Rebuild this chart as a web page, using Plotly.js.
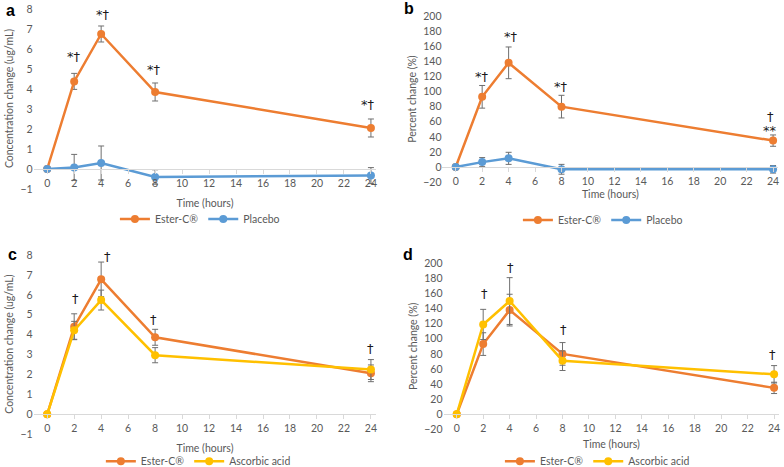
<!DOCTYPE html>
<html>
<head>
<meta charset="utf-8">
<script src="https://cdn.plot.ly/plotly-3.0.1.min.js"></script>
<style>html,body{margin:0;padding:0;background:#fff}#chart{width:784px;height:467px}</style>
</head>
<body>
<div id="chart"></div>
<script>
// time points (hours)
let time = [0, 2, 4, 8, 24];
let time_ticks = [0, 2, 4, 6, 8, 10, 12, 14, 16, 18, 20, 22, 24];
let conc_ticks = [-1, 0, 1, 2, 3, 4, 5, 6, 7, 8];
let pct_ticks = [-20, 0, 20, 40, 60, 80, 100, 120, 140, 160, 180, 200];

// panel a / c : concentration change (ug/mL)
let conc_ester = [0, 4.38, 6.75, 3.85, 2.05];
let conc_ester_err = [0, 0.4, 0.4, 0.45, 0.45];
let conc_placebo = [0, 0.08, 0.3, -0.4, -0.33];
let conc_placebo_err = [0, 0.65, 0.85, 0.36, 0.4];
let conc_ester_c = [0, 4.4, 6.78, 3.87, 2.06];
let conc_ester_c_err = [0, 0.65, 0.87, 0.4, 0.42];
let conc_ascorbic = [0, 4.22, 5.74, 2.97, 2.25];
let conc_ascorbic_err = [0, 0.45, 0.5, 0.38, 0.5];

// panel b / d : percent change (%)
let pct_ester = [0, 93, 138, 80, 35];
let pct_ester_err = [0, 15, 21, 15, 7.5];
let pct_placebo = [0, 6.5, 11.5, -3, -3];
let pct_placebo_err = [0, 6, 8, 6.5, 5];
let pct_ascorbic = [0, 119, 150, 71, 53];
let pct_ascorbic_err = [0, 20, 31, 13, 11.5];

// significance marks
let sig_a = [{x: 2, y: 5.6, t: '*†'}, {x: 4.15, y: 7.7, t: '*†'}, {x: 7.9, y: 4.95, t: '*†'}, {x: 23.8, y: 3.2, t: '*†'}];
let sig_b = [{x: 2, y: 120, t: '*†'}, {x: 4.15, y: 173, t: '*†'}, {x: 8, y: 106, t: '*†'}, {x: 23.8, y: 67, t: '†'}, {x: 23.8, y: 49, t: '**'}];
let sig_c = [{x: 2.1, y: 5.8, t: '†'}, {x: 4.5, y: 7.95, t: '†'}, {x: 7.9, y: 4.74, t: '†'}, {x: 24, y: 3.3, t: '†'}];
let sig_d = [{x: 2.1, y: 160, t: '†'}, {x: 4.05, y: 195, t: '†'}, {x: 8.05, y: 112, t: '†'}, {x: 23.9, y: 79.5, t: '†'}];

let orange = '#ED7D31', blue = '#5B9BD5', yellow = '#FFC000';
let font_main = 'Lato, Open Sans, sans-serif';

function serie(y, err, name, color, xa, ya, leg) {
    return {
        x: time, y: y, name: name, type: 'scatter', mode: 'lines+markers',
        xaxis: xa, yaxis: ya, legend: leg,
        line: {color: color, width: 2.5},
        marker: {color: color, size: 8},
        error_y: {type: 'data', array: err, visible: true, color: '#6f6f6f', thickness: 1, width: 3},
        cliponaxis: false
    };
}

let data = [
    serie(conc_ester, conc_ester_err, 'Ester-C®', orange, 'x', 'y', 'legend'),
    serie(conc_placebo, conc_placebo_err, 'Placebo', blue, 'x', 'y', 'legend'),
    serie(pct_ester, pct_ester_err, 'Ester-C®', orange, 'x2', 'y2', 'legend2'),
    serie(pct_placebo, pct_placebo_err, 'Placebo', blue, 'x2', 'y2', 'legend2'),
    serie(conc_ester_c, conc_ester_c_err, 'Ester-C®', orange, 'x3', 'y3', 'legend3'),
    serie(conc_ascorbic, conc_ascorbic_err, 'Ascorbic acid', yellow, 'x3', 'y3', 'legend3'),
    serie(pct_ester, pct_ester_err, 'Ester-C®', orange, 'x4', 'y4', 'legend4'),
    serie(pct_ascorbic, pct_ascorbic_err, 'Ascorbic acid', yellow, 'x4', 'y4', 'legend4')
];

function xaxe(dom, pos, so) {
    return {
        domain: dom, range: [-1, 24.4], anchor: 'free', position: pos,
        tickvals: time_ticks,
        showgrid: false, zeroline: false, showline: true, linecolor: '#d9d9d9', linewidth: 1,
        ticks: 'outside', ticklen: 4, tickcolor: '#d9d9d9',
        tickfont: {family: font_main, size: 10.5, color: '#595959'},
        title: {text: 'Time (hours)', font: {family: font_main, size: 10.5, color: '#595959'}, standoff: so},
        fixedrange: true
    };
}
function yaxe(dom, anc, rng, tv, txt) {
    return {
        domain: dom, anchor: anc, range: rng, tickvals: tv, showgrid: false, zeroline: false, showline: false,
        ticklabeloverflow: 'allow',
        tickfont: {family: font_main, size: 10.5, color: '#595959'},
        title: {text: txt, font: {family: font_main, size: 10.5, color: '#595959'}, standoff: 4},
        fixedrange: true
    };
}
function leg(xc, yc) {
    return {orientation: 'h', x: xc, y: yc, xanchor: 'center', yanchor: 'middle',
        font: {family: font_main, size: 10.5, color: '#595959'}, itemwidth: 30, bgcolor: 'rgba(0,0,0,0)'};
}

let annots = [];
[[sig_a, 'x', 'y'], [sig_b, 'x2', 'y2'], [sig_c, 'x3', 'y3'], [sig_d, 'x4', 'y4']].forEach(function (s) {
    s[0].forEach(function (p) {
        annots.push({x: p.x, y: p.y, xref: s[1], yref: s[2], text: p.t, showarrow: false,
            font: {family: 'DejaVu Sans, sans-serif', size: 13, color: '#1a1a1a'}});
    });
});
[['a', 0.005, 0.978], ['b', 0.513, 0.982], ['c', 0.008, 0.455], ['d', 0.512, 0.455]].forEach(function (l) {
    annots.push({x: l[1], y: l[2], xref: 'paper', yref: 'paper', text: '<b>' + l[0] + '</b>', showarrow: false,
        xanchor: 'left', yanchor: 'middle', font: {family: 'Liberation Sans, sans-serif', size: 16, color: '#000'}});
});

var layout = {
    width: 784, height: 467,
    margin: {l: 0, r: 0, t: 0, b: 0, autoexpand: false},
    paper_bgcolor: '#fff', plot_bgcolor: '#fff',
    showlegend: true,
    xaxis: xaxe([0.043, 0.480], 0.6381, 12),
    yaxis: yaxe([0.5953, 0.9829], 'x', [-1, 8.05], conc_ticks, 'Concentration change (ug/mL)'),
    xaxis2: xaxe([0.5644, 0.9928], 0.6424, 5),
    yaxis2: yaxe([0.610, 0.9657], 'x2', [-20, 200], pct_ticks, 'Percent change (%)'),
    xaxis3: xaxe([0.043, 0.480], 0.1128, 11),
    yaxis3: yaxe([0.0702, 0.4559], 'x3', [-1, 8.05], conc_ticks, 'Concentration change (ug/mL)'),
    xaxis4: xaxe([0.5657, 0.9941], 0.1128, 7),
    yaxis4: yaxe([0.0805, 0.4362], 'x4', [-20, 200], pct_ticks, 'Percent change (%)'),
    legend: leg(0.255, 0.531),
    legend2: leg(0.769, 0.529),
    legend3: leg(0.253, 0.0125),
    legend4: leg(0.762, 0.0125),
    annotations: annots
};

let config = {displayModeBar: false, staticPlot: true};

Plotly.newPlot('chart', data, layout, config);
</script>
</body>
</html>
